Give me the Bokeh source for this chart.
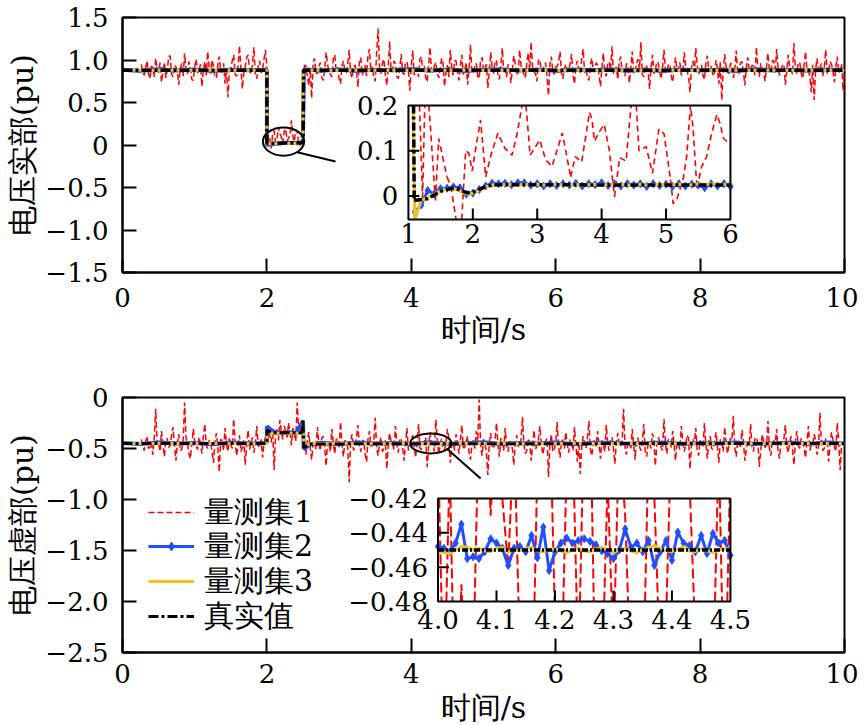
import numpy as np
from bokeh.plotting import figure
from bokeh.models import Range1d, FixedTicker, Legend, LegendItem
from bokeh.layouts import column
from bokeh.embed import file_html
from bokeh.resources import INLINE
from bokeh.core.properties import value

# ------------------------------------------------------------------ data
x_ticks = [0, 2, 4, 6, 8, 10]
x_tick_labels = ["0", "2", "4", "6", "8", "10"]
top_y_ticks = [-1.5, -1.0, -0.5, 0, 0.5, 1.0, 1.5]
top_y_labels = ["\u22121.5", "\u22121.0", "\u22120.5", "0", "0.5", "1.0", "1.5"]
bot_y_ticks = [-2.5, -2.0, -1.5, -1.0, -0.5, 0]
bot_y_labels = ["\u22122.5", "\u22122.0", "\u22121.5", "\u22121.0", "\u22120.5", "0"]

series_names = ["量测集1", "量测集2", "量测集3", "真实值"]

# measurement set 1 (real part), sampled every 0.02 s from 0.26 s
red_top = [
    0.95, 0.86, 0.82, 0.91, 0.99, 0.84, 0.78, 0.93, 0.91, 0.80,
    1.02, 0.88, 0.85, 0.97, 0.74, 0.87, 0.97, 0.79, 0.88, 1.04,
    1.05, 0.83, 0.80, 0.94, 0.92, 0.86, 0.71, 0.90, 0.96, 0.81,
    1.08, 0.89, 0.83, 0.98, 0.90, 0.77, 0.76, 0.92, 1.01, 0.85,
    0.87, 0.95, 0.69, 0.88, 0.98, 0.82, 1.10, 0.91, 0.84, 1.00,
    0.93, 0.80, 0.79, 0.94, 1.04, 0.86, 0.86, 0.96, 0.72, 0.89,
    0.56, 0.87, 0.89, 0.99, 1.06, 0.83, 0.81, 0.92, 1.17, 0.90,
    0.66, 0.84, 0.92, 1.03, 1.06, 0.87, 0.84, 0.95, 1.15, 0.82,
    0.78, 0.93, 0.99, 0.85, 0.87, 1.01, 1.12, 0.90, 0.12, 0.07,
    -0.04, 0.13, 0.17, 0.03, 0.06, 0.21, 0.14, 0.09, 0.02, 0.16,
    0.19, 0.05, 0.08, 0.12, 0.29, 0.10, 0.04, 0.18, 0.15, 0.01,
    -0.01, 0.11, 0.10, 0.94, 0.93, 0.81, 0.70, 0.90, 0.55, 0.97,
    1.02, 0.85, 0.84, 0.92, 0.97, 0.79, 0.76, 0.88, 1.09, 0.95,
    0.86, 0.83, 0.80, 1.02, 1.06, 0.87, 0.91, 0.78, 0.72, 0.93,
    0.99, 0.86, 0.85, 0.96, 1.12, 0.84, 0.79, 0.91, 0.94, 0.88,
    0.68, 0.97, 1.03, 0.82, 0.88, 0.94, 0.81, 1.05, 1.13, 0.86,
    0.92, 0.80, 0.75, 1.08, 1.37, 0.90, 0.84, 0.96, 1.01, 0.83,
    0.70, 0.92, 1.22, 0.87, 0.87, 0.99, 0.95, 0.81, 0.78, 0.90,
    1.07, 0.85, 0.83, 0.97, 0.98, 0.88, 0.64, 0.94, 1.11, 0.82,
    0.89, 0.91, 0.80, 1.01, 1.04, 0.86, 0.93, 0.79, 0.74, 0.95,
    1.15, 0.87, 0.86, 0.93, 0.97, 0.84, 0.79, 0.90, 1.02, 0.96,
    0.69, 0.85, 0.94, 0.80, 1.12, 0.92, 0.82, 0.99, 0.99, 0.86,
    0.76, 0.94, 1.06, 0.83, 0.88, 0.97, 0.71, 0.89, 1.18, 0.85,
    0.85, 0.93, 0.96, 0.81, 0.78, 1.00, 1.03, 0.88, 0.90, 0.95,
    0.67, 0.86, 1.09, 0.91, 0.84, 0.98, 1.00, 0.83, 0.77, 0.94,
    1.14, 0.87, 0.87, 0.80, 0.95, 0.92, 0.73, 0.89, 1.05, 0.96,
    0.82, 0.85, 1.12, 0.93, 0.91, 0.82, 0.79, 0.97, 1.08, 0.88,
    1.21, 0.91, 0.86, 0.84, 0.75, 0.99, 1.01, 0.87, 0.88, 0.93,
    0.97, 0.80, 0.58, 0.95, 1.04, 0.86, 0.83, 0.92, 0.92, 0.98,
    1.10, 0.84, 0.78, 0.90, 0.95, 0.87, 0.87, 0.96, 1.07, 0.82,
    0.72, 0.93, 0.99, 0.88, 0.84, 1.01, 1.13, 0.85, 0.90, 0.79,
    0.76, 0.94, 1.02, 0.89, 0.86, 0.97, 0.94, 0.83, 0.69, 0.91,
    1.08, 0.86, 0.81, 0.95, 0.98, 0.88, 1.16, 0.84, 0.85, 0.92,
    0.77, 0.99, 1.04, 0.87, 0.89, 0.81, 0.96, 0.93, 0.73, 0.90,
    1.10, 0.85, 0.84, 0.96, 1.01, 0.89, 1.21, 0.83, 0.80, 0.94,
    0.93, 0.87, 0.66, 0.91, 1.06, 0.84, 0.88, 0.98, 0.97, 0.86,
    0.78, 0.92, 1.12, 0.88, 0.85, 0.95, 0.95, 0.81, 0.74, 0.90,
    1.03, 0.87, 0.90, 0.97, 0.82, 0.85, 1.09, 0.93, 0.87, 0.80,
    0.62, 0.91, 0.99, 0.86, 1.14, 0.94, 0.83, 0.89, 0.94, 0.82,
    0.77, 0.96, 1.05, 0.88, 0.89, 0.93, 0.81, 0.85, 1.00, 0.90,
    0.72, 0.98, 0.53, 0.87, 1.07, 0.92, 0.86, 0.84, 0.96, 0.95,
    0.79, 0.88, 1.11, 0.83, 0.84, 0.97, 0.98, 0.86, 0.70, 0.91,
    1.03, 0.89, 0.88, 0.94, 0.93, 0.82, 1.15, 0.90, 0.80, 0.96,
    0.91, 0.85, 0.75, 0.93, 1.08, 0.87, 0.86, 0.99, 0.99, 0.84,
    1.13, 0.91, 0.82, 0.88, 0.94, 0.95, 0.71, 0.86, 1.06, 0.92,
    0.89, 0.83, 1.20, 0.90, 0.84, 0.97, 0.97, 0.85, 0.78, 0.93,
    1.10, 0.88, 0.87, 0.81, 0.62, 0.94, 0.53, 0.89, 1.02, 0.86,
    0.90, 0.96, 0.81, 0.91, 1.12, 0.84, 0.86, 0.98, 0.95, 0.87,
    0.74, 0.92, 1.04, 0.85, 0.88, 0.95, 0.64, 0.83,
]
# measurement set 1 (imaginary part), same sampling
red_bot = [
    -0.41, -0.47, -0.52, -0.43, -0.38, -0.50, -0.49, -0.44, -0.56, -0.39,
    -0.11, -0.46, -0.44, -0.53, -0.33, -0.45, -0.58, -0.41, -0.40, -0.49,
    -0.47, -0.37, -0.29, -0.48, -0.62, -0.44, -0.36, -0.52, -0.51, -0.42,
    -0.05, -0.40, -0.45, -0.55, -0.60, -0.46, -0.31, -0.43, -0.48, -0.51,
    -0.39, -0.45, -0.55, -0.38, -0.26, -0.47, -0.50, -0.42, -0.43, -0.54,
    -0.64, -0.44, -0.35, -0.49, -0.73, -0.41, -0.42, -0.52, -0.30, -0.46,
    -0.53, -0.40, -0.46, -0.50, -0.21, -0.43, -0.57, -0.47, -0.37, -0.53,
    -0.49, -0.42, -0.66, -0.45, -0.32, -0.51, -0.44, -0.39, -0.54, -0.46,
    -0.28, -0.48, -0.47, -0.41, -0.59, -0.45, -0.38, -0.43, -0.27, -0.38,
    -0.44, -0.31, -0.71, -0.36, -0.30, -0.42, -0.22, -0.34, -0.41, -0.28,
    -0.33, -0.39, -0.25, -0.35, -0.47, -0.30, -0.36, -0.43, -0.05, -0.33,
    -0.29, -0.37, -0.40, -0.47, -0.56, -0.42, -0.34, -0.49, -0.61, -0.44,
    -0.43, -0.51, -0.29, -0.46, -0.52, -0.40, -0.38, -0.48, -0.67, -0.43,
    -0.46, -0.53, -0.31, -0.45, -0.55, -0.41, -0.40, -0.50, -0.24, -0.47,
    -0.58, -0.42, -0.44, -0.49, -0.83, -0.44, -0.36, -0.52, -0.49, -0.40,
    -0.27, -0.46, -0.53, -0.43, -0.42, -0.55, -0.63, -0.41, -0.33, -0.48,
    -0.47, -0.44, -0.20, -0.50, -0.57, -0.45, -0.39, -0.53, -0.50, -0.42,
    -0.70, -0.47, -0.35, -0.43, -0.45, -0.51, -0.28, -0.46, -0.54, -0.40,
    -0.41, -0.49, -0.62, -0.44, -0.30, -0.52, -0.48, -0.41, -0.37, -0.47,
    -0.59, -0.43, -0.26, -0.50, -0.51, -0.45, -0.43, -0.39, -0.68, -0.48,
    -0.34, -0.46, -0.46, -0.53, -0.22, -0.42, -0.56, -0.47, -0.40, -0.51,
    -0.52, -0.44, -0.31, -0.40, -0.64, -0.48, -0.44, -0.52, -0.36, -0.45,
    -0.55, -0.41, -0.27, -0.49, -0.49, -0.43, -0.38, -0.54, -0.61, -0.46,
    -0.42, -0.50, -0.33, -0.44, -0.02, -0.47, -0.57, -0.41, -0.45, -0.53,
    -0.76, -0.45, -0.35, -0.49, -0.50, -0.42, -0.25, -0.46, -0.58, -0.40,
    -0.41, -0.52, -0.30, -0.47, -0.53, -0.43, -0.44, -0.50, -0.66, -0.45,
    -0.37, -0.48, -0.48, -0.41, -0.19, -0.46, -0.55, -0.52, -0.40, -0.44,
    -0.62, -0.47, -0.32, -0.51, -0.47, -0.42, -0.28, -0.45, -0.56, -0.49,
    -0.43, -0.40, -0.78, -0.46, -0.36, -0.53, -0.51, -0.44, -0.24, -0.48,
    -0.59, -0.42, -0.42, -0.50, -0.34, -0.45, -0.54, -0.41, -0.45, -0.52,
    -0.29, -0.47, -0.63, -0.43, -0.75, -0.49, -0.38, -0.45, -0.50, -0.40,
    -0.23, -0.51, -0.57, -0.44, -0.41, -0.48, -0.33, -0.46, -0.60, -0.42,
    -0.46, -0.53, -0.27, -0.45, -0.52, -0.41, -0.39, -0.50, -0.65, -0.44,
    -0.35, -0.47, -0.48, -0.42, -0.11, -0.49, -0.56, -0.43, -0.43, -0.51,
    -0.31, -0.46, -0.61, -0.40, -0.40, -0.48, -0.52, -0.44, -0.26, -0.53,
    -0.58, -0.45, -0.44, -0.50, -0.35, -0.42, -0.67, -0.47, -0.39, -0.43,
    -0.49, -0.52, -0.21, -0.45, -0.55, -0.41, -0.42, -0.49, -0.33, -0.46,
    -0.62, -0.44, -0.46, -0.51, -0.28, -0.43, -0.53, -0.47, -0.37, -0.40,
    -0.70, -0.48, -0.41, -0.45, -0.30, -0.52, -0.57, -0.42, -0.45, -0.49,
    -0.25, -0.46, -0.60, -0.43, -0.38, -0.50, -0.51, -0.44, -0.34, -0.48,
    -0.64, -0.41, -0.43, -0.53, -0.29, -0.45, -0.55, -0.47, -0.40, -0.42,
    -0.18, -0.50, -0.58, -0.44, -0.47, -0.48, -0.32, -0.43, -0.62, -0.51,
    -0.44, -0.46, -0.26, -0.49, -0.53, -0.40, -0.39, -0.45, -0.68, -0.52,
    -0.36, -0.43, -0.49, -0.47, -0.23, -0.50, -0.57, -0.42, -0.42, -0.46,
    -0.31, -0.53, -0.60, -0.44, -0.45, -0.41, -0.27, -0.48, -0.54, -0.45,
    -0.38, -0.51, -0.66, -0.43, -0.33, -0.47, -0.50, -0.40, -0.41, -0.49,
    -0.59, -0.44, -0.28, -0.52, -0.47, -0.46, -0.36, -0.42, -0.56, -0.48,
    -0.15, -0.45, -0.52, -0.50, -0.40, -0.43, -0.63, -0.47, -0.34, -0.41,
    -0.48, -0.53, -0.25, -0.44, -0.71, -0.46, -0.44, -0.50,
]
red_t0, red_dt = 0.26, 0.02

# measurement set 2 (real / imaginary), main panels
blue_top_t = [0.0, 0.25, 0.5, 0.75, 1.0, 1.25, 1.5, 1.75, 2.0,
              2.0, 2.1, 2.2, 2.3, 2.4, 2.5,
              2.51, 2.75, 3.0, 3.25, 3.5, 3.75, 4.0, 4.25, 4.5, 4.75, 5.0,
              5.25, 5.5, 5.75, 6.0, 6.25, 6.5, 6.75, 7.0, 7.25, 7.5, 7.75,
              8.0, 8.25, 8.5, 8.75, 9.0, 9.25, 9.5, 9.75, 10.0]
blue_top_v = [0.885, 0.872, 0.890, 0.876, 0.888, 0.870, 0.884, 0.878, 0.886,
              0.0, 0.012, 0.020, 0.027, 0.024, 0.028,
              0.892, 0.874, 0.889, 0.871, 0.886, 0.879, 0.893, 0.873, 0.887, 0.870,
              0.884, 0.891, 0.875, 0.888, 0.872, 0.886, 0.879, 0.892, 0.874, 0.883,
              0.870, 0.889, 0.877, 0.885, 0.871, 0.890, 0.876, 0.884, 0.873, 0.888,
              0.880]
blue_bot_t = [0.0, 0.25, 0.5, 0.75, 1.0, 1.25, 1.5, 1.75, 2.0,
              2.0, 2.1, 2.2, 2.3, 2.4, 2.5,
              2.51, 2.6, 2.75, 3.0, 3.25, 3.5, 3.75, 4.0, 4.25, 4.5, 4.75, 5.0,
              5.25, 5.5, 5.75, 6.0, 6.25, 6.5, 6.75, 7.0, 7.25, 7.5, 7.75,
              8.0, 8.25, 8.5, 8.75, 9.0, 9.25, 9.5, 9.75, 10.0]
blue_bot_v = [-0.445, -0.456, -0.441, -0.452, -0.447, -0.458, -0.443, -0.450, -0.446,
              -0.285, -0.338, -0.352, -0.341, -0.349, -0.23,
              -0.505, -0.462,
              -0.444, -0.455, -0.440, -0.451, -0.446, -0.457, -0.442, -0.453, -0.448, -0.439,
              -0.456, -0.445, -0.451, -0.441, -0.458, -0.447, -0.443, -0.454, -0.449, -0.440,
              -0.455, -0.446, -0.452, -0.442, -0.457, -0.448, -0.444, -0.453, -0.441, -0.450]

# measurement set 3 and true value, main panels
yel_top_t = [0.0, 2.0, 2.0, 2.5, 2.5, 10.0]
yel_top_v = [0.878, 0.878, 0.015, 0.022, 0.878, 0.878]
true_top_t = [0.0, 2.0, 2.0, 2.5, 2.51, 10.0]
true_top_v = [0.88, 0.88, 0.02, 0.025, 0.88, 0.88]
yel_bot_t = [0.0, 2.0, 2.0, 2.06, 2.49, 2.5, 2.51, 2.6, 10.0]
yel_bot_v = [-0.452, -0.452, -0.33, -0.35, -0.35, -0.24, -0.48, -0.452, -0.452]
true_bot_t = [0.0, 2.0, 2.0, 2.06, 2.49, 2.5, 2.51, 2.6, 10.0]
true_bot_v = [-0.45, -0.45, -0.32, -0.345, -0.345, -0.22, -0.49, -0.455, -0.45]

# ---- inset 1 (real part, zoom on the fault)
ins1_x_ticks = [1, 2, 3, 4, 5, 6]
ins1_x_labels = ["1", "2", "3", "4", "5", "6"]
ins1_y_ticks = [0, 0.1, 0.2]
ins1_y_labels = ["0", "0.1", "0.2"]
ins1_red_x = [1.15, 1.22, 1.27, 1.42, 1.47, 1.60, 1.66, 1.76, 1.82, 1.89,
              1.94, 1.99, 2.05, 2.12, 2.20, 2.28, 2.39, 2.50, 2.61, 2.69,
              2.77, 2.82, 2.89, 3.04, 3.13, 3.23, 3.39, 3.52, 3.59, 3.69,
              3.77, 3.81, 3.85, 3.89, 3.96, 4.04, 4.12, 4.20, 4.28, 4.38,
              4.46, 4.53, 4.58, 4.69, 4.79, 4.89, 4.97, 5.07, 5.11, 5.17,
              5.27, 5.32, 5.38, 5.42, 5.48, 5.55, 5.63, 5.71, 5.79, 5.84,
              5.89, 6.00]
ins1_red_y = [0.30, -0.005, 0.30, -0.01, 0.127, 0.042, 0.02, -0.07, -0.07, 0.10,
              0.094, 0.055, 0.11, 0.168, 0.042, 0.09, 0.139, 0.105, 0.09, 0.139,
              0.205, 0.21, 0.09, 0.124, 0.08, 0.065, 0.139, 0.042, 0.087, 0.075,
              0.146, 0.185, 0.17, 0.121, 0.141, 0.158, 0.10, -0.002, 0.085, 0.077,
              0.205, 0.22, 0.10, 0.109, 0.05, 0.148, 0.137, 0.036, -0.017, -0.007,
              0.04, 0.087, 0.20, 0.15, 0.017, 0.063, 0.087, 0.139, 0.18, 0.16,
              0.128, 0.113]
ins1_blue_x = [1.1, 1.2, 1.3, 1.4, 1.5, 1.6, 1.7, 1.8, 1.9, 2.0,
               2.1, 2.2, 2.3, 2.4, 2.5, 2.6, 2.7, 2.8, 2.9, 3.0,
               3.1, 3.2, 3.3, 3.4, 3.5, 3.6, 3.7, 3.8, 3.9, 4.0,
               4.1, 4.2, 4.3, 4.4, 4.5, 4.6, 4.7, 4.8, 4.9, 5.0,
               5.1, 5.2, 5.3, 5.4, 5.5, 5.6, 5.7, 5.8, 5.9, 6.0]
ins1_blue_y = [-0.035, -0.02, 0.012, 0.004, 0.016, 0.017, 0.02, 0.018, 0.004, 0.006,
               0.014, 0.022, 0.028, 0.027, 0.028, 0.025, 0.029, 0.029, 0.024, 0.027,
               0.022, 0.027, 0.023, 0.027, 0.024, 0.028, 0.022, 0.027, 0.025, 0.029,
               0.023, 0.027, 0.022, 0.027, 0.024, 0.027, 0.021, 0.027, 0.023, 0.026,
               0.021, 0.027, 0.022, 0.026, 0.024, 0.018, 0.027, 0.022, 0.027, 0.021]
ins1_yel_x = [1.07, 1.10, 1.15,
              1.2, 1.3, 1.4, 1.5, 1.6, 1.7, 1.8, 1.9, 2.0,
              2.1, 2.2, 2.3, 2.4, 2.5, 2.6, 2.7, 2.8, 2.9, 3.0,
              3.1, 3.2, 3.3, 3.4, 3.5, 3.6, 3.7, 3.8, 3.9, 4.0,
              4.1, 4.2, 4.3, 4.4, 4.5, 4.6, 4.7, 4.8, 4.9, 5.0,
              5.1, 5.2, 5.3, 5.4, 5.5, 5.6, 5.7, 5.8, 5.9, 6.0]
ins1_yel_y = [0.21, -0.055, -0.030,
              -0.010, -0.004, 0.004, 0.011, 0.016, 0.016, 0.011, 0.004, 0.006,
              0.012, 0.020, 0.024, 0.026, 0.025, 0.026, 0.024, 0.026, 0.025, 0.026,
              0.024, 0.025, 0.026, 0.024, 0.025, 0.026, 0.024, 0.025, 0.026, 0.025,
              0.024, 0.026, 0.025, 0.024, 0.025, 0.026, 0.024, 0.025, 0.026, 0.024,
              0.025, 0.026, 0.024, 0.025, 0.027, 0.026, 0.027, 0.026, 0.025, 0.027]
ins1_true_x = [1.08, 1.09, 1.2, 1.3, 1.4, 1.5, 1.6, 1.7, 1.8, 1.9, 2.0, 2.1,
               2.2, 2.3, 2.4, 2.6, 3.0, 3.5, 4.0, 4.5, 5.0, 5.5, 6.0]
ins1_true_y = [0.21, -0.010, -0.008, -0.006, 0.002, 0.010, 0.015, 0.017, 0.014,
               0.007, 0.008, 0.014, 0.021, 0.024, 0.025, 0.025, 0.025, 0.025,
               0.024, 0.024, 0.024, 0.024, 0.024]

# ---- inset 2 (imaginary part, 4.0 s - 4.5 s, sampled every 0.01 s)
ins2_x_ticks = [4.0, 4.1, 4.2, 4.3, 4.4, 4.5]
ins2_x_labels = ["4.0", "4.1", "4.2", "4.3", "4.4", "4.5"]
ins2_y_ticks = [-0.48, -0.46, -0.44, -0.42]
ins2_y_labels = ["\u22120.48", "\u22120.46", "\u22120.44", "\u22120.42"]
ins2_t0, ins2_dt = 4.0, 0.01
ins2_red = [-0.39, -0.54, -0.40, -0.57, -0.47, -0.55, -0.52, -0.37, -0.35, -0.43,
            -0.36, -0.42, -0.46, -0.38, -0.51, -0.53, -0.56, -0.40, -0.39, -0.35,
            -0.49, -0.54, -0.40, -0.38, -0.52, -0.37, -0.36, -0.55, -0.53, -0.41,
            -0.51, -0.38, -0.43, -0.53, -0.56, -0.54, -0.39, -0.42, -0.52, -0.49,
            -0.37, -0.36, -0.38, -0.41, -0.50, -0.53, -0.48, -0.53, -0.39, -0.55,
            -0.40]
ins2_blue = [-0.448, -0.449, -0.451, -0.446, -0.435, -0.455, -0.454, -0.455, -0.451, -0.4435,
             -0.446, -0.449, -0.459, -0.449, -0.448, -0.451, -0.4415, -0.4545, -0.4367, -0.462,
             -0.451, -0.446, -0.443, -0.446, -0.4445, -0.4435, -0.445, -0.447, -0.4505, -0.452,
             -0.455, -0.450, -0.4377, -0.4485, -0.446, -0.451, -0.4445, -0.459, -0.451, -0.4445,
             -0.456, -0.4396, -0.446, -0.4475, -0.451, -0.4416, -0.452, -0.4404, -0.446, -0.4445,
             -0.453]
ins2_yel = [-0.451, -0.4515, -0.452, -0.450, -0.448, -0.4485, -0.450, -0.449, -0.4505, -0.451,
            -0.449, -0.4485, -0.451, -0.450, -0.4505, -0.449, -0.4485, -0.4505, -0.451, -0.450,
            -0.449, -0.4505, -0.4515, -0.450, -0.449, -0.4505, -0.451, -0.4495, -0.4485, -0.450,
            -0.4515, -0.450, -0.449, -0.4505, -0.4515, -0.450, -0.4485, -0.4475, -0.449, -0.4505,
            -0.451, -0.4495, -0.448, -0.4505, -0.451, -0.449, -0.4505, -0.4515, -0.450, -0.449,
            -0.4495]
ins2_true_x = [4.0, 4.5]
ins2_true_y = [-0.45, -0.45]

# ------------------------------------------------------------------ style
FONT = "DejaVu Serif"
TICK_SIZE = "26px"
LABEL_SIZE = "30px"
RED, BLUE, YEL, BLK = "#ff0000", "#1f4fff", "#f0c31e", "#000000"
DASH_RED = "6 3"
DASH_BLK = "10 3 3 3"


def clip_line(xs, ys, x0, x1, y0, y1):
    """Clip a polyline to a box (Liang-Barsky), NaN between pieces."""
    ox, oy = [], []
    for i in range(len(xs) - 1):
        ax, ay, bx, by = xs[i], ys[i], xs[i + 1], ys[i + 1]
        dx, dy = bx - ax, by - ay
        t0, t1, ok = 0.0, 1.0, True
        for pp, qq in ((-dx, ax - x0), (dx, x1 - ax), (-dy, ay - y0), (dy, y1 - ay)):
            if pp == 0:
                if qq < 0:
                    ok = False
                    break
            else:
                r = qq / pp
                if pp < 0:
                    if r > t1:
                        ok = False
                        break
                    t0 = max(t0, r)
                else:
                    if r < t0:
                        ok = False
                        break
                    t1 = min(t1, r)
        if not ok:
            continue
        sx, sy, ex, ey = ax + t0 * dx, ay + t0 * dy, ax + t1 * dx, ay + t1 * dy
        if ox and ox[-1] == sx and oy[-1] == sy:
            ox.append(ex)
            oy.append(ey)
        else:
            if ox:
                ox.append(np.nan)
                oy.append(np.nan)
            ox += [sx, ex]
            oy += [sy, ey]
    return ox, oy


def base_fig(y_rng, yt, yl, ylabel, b_top, b_bot, lab_stand, axlab_stand):
    p = figure(frame_width=722, frame_height=255,
               x_range=Range1d(0, 10), y_range=Range1d(*y_rng),
               output_backend="svg", toolbar_location=None, title=None,
               min_border_left=122, min_border_right=14,
               min_border_top=b_top, min_border_bottom=b_bot)
    p.grid.visible = False
    p.outline_line_color = "black"
    p.outline_line_width = 2
    p.outline_line_alpha = 1
    p.background_fill_color = "white"
    p.border_fill_color = "white"
    xa, ya = p.xaxis[0], p.yaxis[0]
    xa.ticker = FixedTicker(ticks=x_ticks)
    xa.major_label_overrides = {v: l for v, l in zip(x_ticks, x_tick_labels)}
    ya.ticker = FixedTicker(ticks=yt)
    ya.major_label_overrides = {v: l for v, l in zip(yt, yl)}
    xa.axis_label = "时间/s"
    ya.axis_label = ylabel
    for ax in (xa, ya):
        ax.axis_line_width = 2
        ax.axis_line_color = "black"
        ax.major_tick_in = 14
        ax.major_tick_out = 0
        ax.major_tick_line_width = 2
        ax.major_tick_line_color = "black"
        ax.minor_tick_line_color = None
        ax.major_label_text_font = FONT
        ax.major_label_text_font_size = TICK_SIZE
        ax.major_label_text_color = "black"
        ax.axis_label_text_font = FONT
        ax.axis_label_text_font_size = LABEL_SIZE
        ax.axis_label_text_font_style = "normal"
        ax.axis_label_text_color = "black"
    xa.major_label_standoff = lab_stand
    xa.axis_label_standoff = axlab_stand
    ya.major_label_standoff = 14
    ya.axis_label_standoff = 2
    return p


def draw_inset(p, xs, ys, xt, yt, xticks, xlabels, yticks, ylabels,
               series, xlab_dy, ylab_dx):
    sub = p.subplot(x_source=Range1d(*xs), y_source=Range1d(*ys),
                    x_target=Range1d(*xt), y_target=Range1d(*yt))
    sub.quad(left=[xs[0]], right=[xs[1]], bottom=[ys[0]], top=[ys[1]],
             fill_color="white", line_color=None)
    rends = {}
    for key, (sx, sy, kw) in series.items():
        cx, cy = clip_line(list(sx), list(sy), xs[0], xs[1], ys[0], ys[1])
        rends[key] = sub.line(cx, cy, **kw)
        if key == "blue":
            rends["blue_pts"] = sub.scatter(sx, sy, marker="diamond", size=8,
                                            fill_color=BLUE, line_color=BLUE)
    sub.quad(left=[xs[0]], right=[xs[1]], bottom=[ys[0]], top=[ys[1]],
             fill_color=None, line_color="black", line_width=2)
    inner_x = [v for v in xticks if xs[0] < v < xs[1]]
    inner_y = [v for v in yticks if ys[0] < v < ys[1]]
    sub.ray(x=inner_x, y=[ys[0]] * len(inner_x), length=11, angle=np.pi / 2,
            length_units="screen", line_color="black", line_width=2)
    sub.ray(x=[xs[0]] * len(inner_y), y=inner_y, length=11, angle=0,
            length_units="screen", line_color="black", line_width=2)
    sub.text(x=xticks, y=[ys[0]] * len(xticks), text=xlabels,
             text_font=value(FONT), text_font_size=TICK_SIZE, text_color="black",
             text_align="center", text_baseline="top", y_offset=xlab_dy)
    sub.text(x=[xs[0]] * len(yticks), y=yticks, text=ylabels,
             text_font=value(FONT), text_font_size=TICK_SIZE, text_color="black",
             text_align="right", text_baseline="middle", x_offset=ylab_dx)
    return rends


# ------------------------------------------------------------------ top panel
p1 = base_fig((-1.5, 1.5), top_y_ticks, top_y_labels, "电压实部(pu)", 17, 86, 15, 2)
t_red_top = red_t0 + red_dt * np.arange(len(red_top))
p1.line(t_red_top, red_top, line_color=RED, line_width=1.5, line_dash=DASH_RED)
p1.line(blue_top_t, blue_top_v, line_color=BLUE, line_width=4)
p1.line(yel_top_t, yel_top_v, line_color=YEL, line_width=3)
p1.line(true_top_t, true_top_v, line_color=BLK, line_width=3.5, line_dash=DASH_BLK)
p1.ellipse(x=[2.23], y=[0.04], width=[0.57], height=[0.33],
           fill_color=None, line_color="black", line_width=2)
p1.segment(x0=[2.42], y0=[-0.085], x1=[2.95], y1=[-0.194],
           line_color="black", line_width=2)
draw_inset(
    p1, (1, 6), (-0.052, 0.2), (3.96, 8.42), (-0.876, 0.465),
    ins1_x_ticks, ins1_x_labels, ins1_y_ticks, ins1_y_labels,
    {
        "red": (ins1_red_x, ins1_red_y, dict(line_color=RED, line_width=1.6, line_dash="6 4")),
        "blue": (ins1_blue_x, ins1_blue_y, dict(line_color=BLUE, line_width=3)),
        "yel": (ins1_yel_x, ins1_yel_y, dict(line_color=YEL, line_width=3)),
        "true": (ins1_true_x, ins1_true_y, dict(line_color=BLK, line_width=3.5, line_dash="8 3 3 3")),
    },
    5, -10,
)

# ------------------------------------------------------------------ bottom panel
p2 = base_fig((-2.5, 0), bot_y_ticks, bot_y_labels, "电压虚部(pu)", 39, 70, 11, 4)
t_red_bot = red_t0 + red_dt * np.arange(len(red_bot))
r_red = p2.line(t_red_bot, red_bot, line_color=RED, line_width=1.5, line_dash=DASH_RED)
r_blue = p2.line(blue_bot_t, blue_bot_v, line_color=BLUE, line_width=4)
r_yel = p2.line(yel_bot_t, yel_bot_v, line_color=YEL, line_width=3)
r_true = p2.line(true_bot_t, true_bot_v, line_color=BLK, line_width=3, line_dash=DASH_BLK)
p2.ellipse(x=[4.27], y=[-0.45], width=[0.57], height=[0.196],
           fill_color=None, line_color="black", line_width=2)
p2.segment(x0=[4.49], y0=[-0.50], x1=[4.96], y1=[-0.794],
           line_color="black", line_width=2)
t_ins2 = np.round(ins2_t0 + ins2_dt * np.arange(len(ins2_blue)), 3)
ins2 = draw_inset(
    p2, (4.0, 4.5), (-0.48, -0.42), (4.37, 8.42), (-2.0, -0.99),
    ins2_x_ticks, ins2_x_labels, ins2_y_ticks, ins2_y_labels,
    {
        "red": (t_ins2, ins2_red, dict(line_color=RED, line_width=2, line_dash="10 4")),
        "blue": (t_ins2, ins2_blue, dict(line_color=BLUE, line_width=3)),
        "yel": (t_ins2, ins2_yel, dict(line_color=YEL, line_width=3)),
        "true": (ins2_true_x, ins2_true_y, dict(line_color=BLK, line_width=3.5, line_dash="6 2 2 2")),
    },
    8, -10,
)

# one legend per entry, so that the rows sit at fixed heights
legend_renderers = [[r_red], [ins2["blue"]], [r_yel], [r_true]]
legend_bottoms = [117, 83, 48, 13]
for name, rs, vy in zip(series_names, legend_renderers, legend_bottoms):
    lg = Legend(
        items=[LegendItem(label=name, renderers=rs)],
        location=(26, vy), orientation="vertical",
        border_line_color=None, background_fill_alpha=0,
        padding=0, margin=0, spacing=0,
        glyph_width=46, glyph_height=46, label_height=46, label_standoff=10,
        label_text_font=FONT, label_text_font_size=LABEL_SIZE, label_text_color="black",
    )
    p2.add_layout(lg)
# the diamond of the second entry, in a narrower glyph box centred on its line
lg_mark = Legend(
    items=[LegendItem(label=" ", renderers=[ins2["blue_pts"]])],
    location=(26 + 12, legend_bottoms[1]), orientation="vertical",
    border_line_color=None, background_fill_alpha=0,
    padding=0, margin=0, spacing=0,
    glyph_width=22, glyph_height=46, label_height=46, label_standoff=0,
    label_text_font=FONT, label_text_font_size=LABEL_SIZE, label_text_alpha=0,
)
p2.add_layout(lg_mark)

layout = column(p1, p2, spacing=0)
open("out.html", "w").write(file_html(layout, INLINE))
